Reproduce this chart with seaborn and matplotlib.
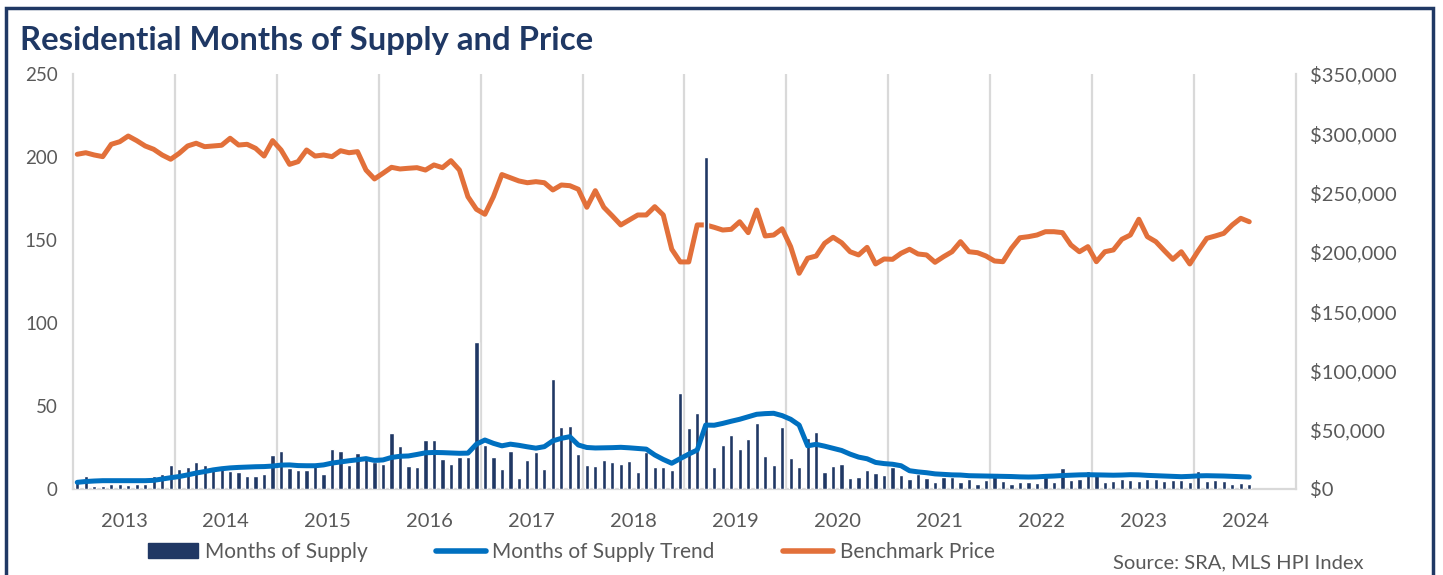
import matplotlib
matplotlib.use("Agg")
import matplotlib.pyplot as plt
from matplotlib.patches import Patch, Rectangle
from matplotlib.lines import Line2D
from matplotlib.ticker import FuncFormatter
import numpy as np
import seaborn as sns

# monthly series, Jan 2013 .. Jul 2024
years = ["2013", "2014", "2015", "2016", "2017", "2018",
         "2019", "2020", "2021", "2022", "2023", "2024"]

months_supply = [
    5, 8, 2, 1.6, 3, 3, 2.4, 3, 3, 8,
    9, 14.7, 11.8, 13, 16, 14.5, 11.8, 13, 11, 10,
    7.8, 8, 9, 20.5, 22.7, 12.5, 11.5, 11.5, 15, 9,
    24, 22.7, 14.5, 21.9, 18.5, 16, 15, 33.5, 25.9, 14,
    13.5, 29.3, 29.3, 18.3, 15, 19.5, 19.5, 88.4, 26.5, 19.5,
    12.2, 23, 6.8, 17.5, 22.5, 12, 66, 37.5, 38, 21,
    14.7, 14, 17.5, 16.3, 15.3, 16.7, 10.4, 22.5, 13.2, 13.2,
    11.6, 58, 37, 46, 200, 13, 26.3, 32.3, 24, 30,
    39.8, 19.9, 14.3, 37.3, 18.5, 13.5, 30.7, 34.5, 10, 13.7,
    14.9, 6.6, 7, 11.6, 9.6, 8.4, 13.3, 8.2, 5.8, 9,
    6.4, 4.4, 7.4, 7.4, 4.2, 6.2, 3, 5.6, 9.8, 5,
    3.2, 4.4, 4, 3.4, 8.2, 4.4, 12.4, 5.4, 5.8, 10.6,
    10.2, 4.2, 4.8, 5.8, 5.6, 5, 5.8, 5.8, 5, 5.4,
    5.4, 4.4, 10.8, 5, 5.4, 5, 3.2, 3.8, 3.2,
]

supply_trend = [
    4.0, 4.5, 4.8, 5.0, 5.0, 5.0, 5.0, 5.0, 5.0, 5.2,
    6.0, 6.8, 7.5, 8.5, 9.6, 10.5, 11.5, 12.2, 12.7, 13.0,
    13.2, 13.4, 13.5, 13.8, 14.4, 14.5, 14.1, 14.0, 14.0, 14.5,
    15.6, 16.3, 17.0, 17.6, 18.3, 17.2, 17.5, 19.0, 19.7, 19.9,
    20.8, 21.8, 22.0, 21.9, 21.7, 21.5, 21.6, 27.0, 29.5, 27.5,
    26.0, 27.0, 26.3, 25.4, 24.6, 25.5, 29.0, 30.5, 31.5, 26.5,
    25.0, 24.7, 24.8, 24.9, 25.1, 24.8, 24.4, 24.0, 20.5, 17.8,
    15.5, 18.3, 21.0, 23.5, 38.5, 38.4, 39.5, 40.8, 42.0, 43.5,
    45.0, 45.4, 45.6, 44.2, 42.0, 38.5, 26.0, 26.9, 25.8, 24.5,
    23.2, 21.0, 19.2, 18.2, 16.0, 15.3, 14.9, 14.0, 11.0, 10.3,
    9.8, 9.1, 8.8, 8.5, 8.4, 8.0, 7.9, 7.8, 7.7, 7.6,
    7.5, 7.3, 7.2, 7.3, 7.6, 7.8, 8.1, 8.3, 8.5, 8.6,
    8.5, 8.4, 8.3, 8.4, 8.6, 8.5, 8.2, 8.0, 7.8, 7.6,
    7.4, 7.6, 7.9, 8.0, 7.9, 7.8, 7.6, 7.4, 7.2,
]

# benchmark price, thousands of dollars
benchmark_k = [
    282.3, 283.6, 281.7, 280.3, 290.7, 292.9, 297.7, 293.8, 289.3, 286.5,
    281.7, 278.1, 283.1, 289.3, 291.6, 288.7, 289.3, 289.9, 295.8, 290.1,
    290.7, 287.3, 280.8, 293.8, 285.9, 273.8, 276.1, 285.9, 280.8, 281.7,
    280.3, 285.3, 283.6, 284.5, 269.0, 261.5, 266.3, 271.3, 269.9, 270.5,
    271.0, 269.0, 273.3, 271.0, 276.9, 269.0, 246.5, 235.9, 231.7, 246.5,
    265.2, 262.5, 259.8, 258.3, 259.2, 258.3, 252.2, 256.4, 255.8, 252.8,
    237.6, 251.6, 237.6, 230.3, 222.7, 226.9, 231.1, 231.1, 238.1, 231.1,
    202.2, 191.5, 191.5, 222.7, 222.7, 220.7, 218.4, 219.0, 225.4, 216.2,
    235.3, 213.4, 214.2, 219.5, 204.4, 181.9, 194.6, 196.5, 207.2, 212.3,
    207.7, 200.1, 197.4, 203.8, 189.8, 194.0, 193.7, 198.8, 202.2, 198.2,
    197.4, 191.2, 195.9, 200.1, 208.6, 200.1, 199.3, 196.5, 192.3, 191.7,
    203.0, 211.9, 212.8, 214.2, 217.0, 217.0, 216.2, 205.8, 200.1, 204.4,
    191.7, 200.1, 201.6, 210.6, 214.2, 227.5, 212.8, 208.6, 201.0, 193.7,
    200.1, 189.8, 201.0, 211.4, 213.4, 215.6, 222.7, 228.3, 225.4,
]

NAVY = "#203864"
BLUE = "#0070C0"
ORANGE = "#E2703A"
GREY = "#595959"
GRID = "#D9D9D9"

sns.set_theme(style="white")
plt.rcParams["font.family"] = ["Lato", "DejaVu Sans"]

idx = np.arange(len(months_supply))
price = np.array(benchmark_k) * 1000

fig = plt.figure(figsize=(14.43, 5.75), dpi=100)
# price sits on the back axes, supply bars and trend on the front one
ax2 = fig.add_axes([0.0506, 0.1496, 0.8475, 0.7217])
ax = fig.add_axes(ax2.get_position(), sharex=ax2)
ax.patch.set_visible(False)

sns.lineplot(x=idx, y=price, ax=ax2, color=ORANGE, lw=3.6,
             solid_capstyle="round", solid_joinstyle="round")
ax2.yaxis.tick_right()
ax2.set_ylim(0, 350000)
ax2.set_yticks(np.arange(0, 350001, 50000))
ax2.yaxis.set_major_formatter(FuncFormatter(lambda v, p: f"${v:,.0f}"))

sns.barplot(x=idx, y=months_supply, ax=ax, color=NAVY, saturation=1,
            width=0.5, native_scale=True)
sns.lineplot(x=idx, y=supply_trend, ax=ax, color=BLUE, lw=3.6,
             solid_capstyle="round", solid_joinstyle="round")
ax.set_ylim(0, 250)
ax.set_yticks(range(0, 251, 50))

ax.set_xlim(-0.5, len(years) * 12 - 0.5)
ax.set_xticks([12 * k + 5.5 for k in range(len(years))])
ax.set_xticklabels(years)
ax.set_xticks([12 * k - 0.5 for k in range(1, len(years))], minor=True)
ax2.grid(which="minor", axis="x", color=GRID, lw=1.6)
ax2.grid(which="major", visible=False)

for a in (ax, ax2):
    a.set_xlabel("")
    a.set_ylabel("")
    for s in a.spines.values():
        s.set_visible(False)
    a.tick_params(length=0, colors=GREY, labelsize=14.5)
ax.tick_params(axis="x", pad=17)
ax.tick_params(axis="y", pad=11, labelsize=13.5)
ax2.tick_params(axis="y", pad=10)
ax2.tick_params(axis="x", labelbottom=False)
for side in ("left", "bottom", "right"):
    ax2.spines[side].set_visible(True)
    ax2.spines[side].set_color(GRID)
    ax2.spines[side].set_linewidth(1.6)

fig.text(0.0139, 0.929, "Residential Months of Supply and Price", fontsize=23.7,
         fontweight="bold", color="#1F3864", ha="left", va="center")

handles = [Patch(facecolor=NAVY, edgecolor=NAVY),
           Line2D([], [], color=BLUE, lw=4),
           Line2D([], [], color=ORANGE, lw=4)]
labels = ["Months of Supply", "Months of Supply Trend", "Benchmark Price"]
fig.legend(handles, labels, loc="center", bbox_to_anchor=(0.396, 0.04), ncol=3,
           frameon=False, fontsize=15, handlelength=2.4, handletextpad=0.3,
           columnspacing=3.3, labelcolor=GREY)

fig.text(0.945, 0.021, "Source: SRA, MLS HPI Index", fontsize=14.5, color=GREY,
         ha="right", va="center")

fig.patches.append(Rectangle((0.004, -0.05), 0.989, 1.036, transform=fig.transFigure,
                             fill=False, edgecolor="#1F3864", lw=2.5))

fig.savefig("out.png", dpi=100)
